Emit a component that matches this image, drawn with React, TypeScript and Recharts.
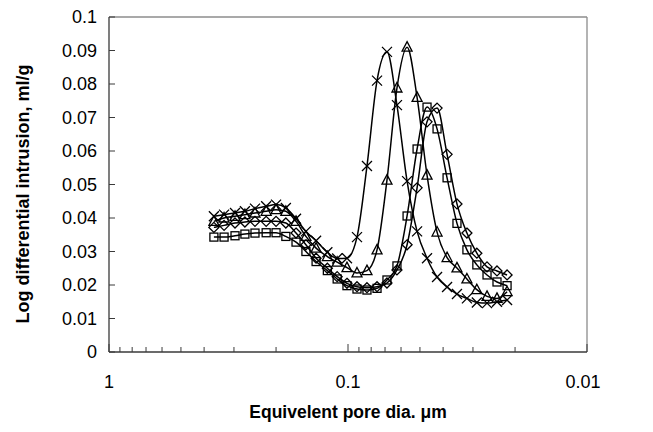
import React from 'react';
import { LineChart, Line, XAxis, YAxis, ReferenceLine, Label } from 'recharts';

// Equivalent pore diameter (µm)
const poreDia = [
  0.364, 0.33, 0.297, 0.27, 0.245, 0.22, 0.2, 0.182, 0.165, 0.15,
  0.136, 0.122, 0.111, 0.101, 0.0917, 0.0833, 0.0756, 0.0687, 0.0624, 0.0566,
  0.0514, 0.0467, 0.0424, 0.0385, 0.035, 0.0318, 0.0289, 0.0262, 0.0238, 0.0216,
];

// Log differential intrusion (ml/g)
const crossSeries = [
  0.0405, 0.041, 0.0415, 0.042, 0.0428, 0.0435, 0.044, 0.043, 0.0398, 0.036,
  0.0332, 0.0298, 0.0279, 0.028, 0.0343, 0.0555, 0.081, 0.0896, 0.0737, 0.051,
  0.036, 0.028, 0.0224, 0.0194, 0.0173, 0.016, 0.0148, 0.0146, 0.015, 0.0155,
];
const triangleSeries = [
  0.039, 0.04, 0.0405, 0.041, 0.0415, 0.042, 0.0425, 0.042, 0.039, 0.0345,
  0.031, 0.0285, 0.0268, 0.0252, 0.0236, 0.0243, 0.0305, 0.0513, 0.0788, 0.091,
  0.076, 0.0528, 0.0358, 0.0282, 0.0251, 0.0218, 0.0186, 0.0166, 0.016, 0.018,
];
const squareSeries = [
  0.0343, 0.0343, 0.0347, 0.0352, 0.0355, 0.0356, 0.0356, 0.0345, 0.0328, 0.03,
  0.027, 0.0243, 0.0218, 0.0198, 0.0188, 0.0185, 0.019, 0.0215, 0.0257, 0.0406,
  0.0606, 0.0731, 0.0666, 0.052, 0.0384, 0.0305, 0.026, 0.023, 0.0209, 0.0198,
];
const diamondSeries = [
  0.0372, 0.0378, 0.0385, 0.0388, 0.039, 0.039, 0.039, 0.0385, 0.0355, 0.032,
  0.028, 0.025, 0.0225, 0.0205, 0.0195, 0.0192, 0.0195, 0.0206, 0.0245, 0.032,
  0.049, 0.0687, 0.0728, 0.059, 0.0442, 0.0355, 0.0295, 0.0254, 0.0242, 0.023,
];

const xTicks = [1, 0.9, 0.8, 0.7, 0.6, 0.5, 0.4, 0.3, 0.2, 0.1, 0.09, 0.08, 0.07, 0.06, 0.05, 0.04, 0.03, 0.02, 0.01];
const xLabelTicks = [1, 0.1, 0.01];
const yTicks = [0, 0.01, 0.02, 0.03, 0.04, 0.05, 0.06, 0.07, 0.08, 0.09, 0.1];

const data = poreDia.map((d, i) => ({
  d,
  cross: crossSeries[i],
  tri: triangleSeries[i],
  sq: squareSeries[i],
  dia: diamondSeries[i],
}));

const FONT = '"Liberation Sans", Arial, Helvetica, sans-serif';
const AXIS = '#3a3a3a';

const XTick = (props: any) => {
  const { x, y, payload } = props;
  const v = payload.value;
  const major = xLabelTicks.includes(v);
  return (
    <g>
      <line x1={x} y1={y} x2={x} y2={y - (major ? 8 : 5)} stroke={AXIS} strokeWidth={1} />
      {major && (
        <text x={x + (v === 0.01 ? -4 : 0)} y={y + 36} textAnchor="middle" fontSize={18} fontFamily={FONT} fill="#000">
          {String(v)}
        </text>
      )}
    </g>
  );
};

const YTick = (props: any) => {
  const { x, y, payload } = props;
  return (
    <g>
      <line x1={x} y1={y} x2={x + 6} y2={y} stroke={AXIS} strokeWidth={1} />
      <text x={x - 12} y={y + 6} textAnchor="end" fontSize={18} fontFamily={FONT} fill="#000">
        {String(payload.value)}
      </text>
    </g>
  );
};

const makeDot = (shape: string) => (props: any) => {
  const { cx, cy, index } = props;
  const k = `${shape}-${index}`;
  if (cx == null || cy == null) return <g key={k} />;
  const common = { fill: 'none', stroke: '#000', strokeWidth: 1.3 };
  if (shape === 'sq') {
    return <rect key={k} x={cx - 4} y={cy - 4} width={8} height={8} {...common} />;
  }
  if (shape === 'tri') {
    return <path key={k} d={`M${cx},${cy - 5.5}L${cx + 5},${cy + 4}L${cx - 5},${cy + 4}Z`} {...common} />;
  }
  if (shape === 'dia') {
    return <path key={k} d={`M${cx},${cy - 5}L${cx + 5},${cy}L${cx},${cy + 5}L${cx - 5},${cy}Z`} {...common} />;
  }
  return <path key={k} d={`M${cx - 5},${cy - 5}L${cx + 5},${cy + 5}M${cx + 5},${cy - 5}L${cx - 5},${cy + 5}`} {...common} />;
};

export default function App() {
  return (
    <LineChart width={645} height={424} data={data} margin={{ top: 9, right: 66, bottom: 0, left: 0 }}>
      <XAxis
        dataKey="d"
        type="number"
        scale="log"
        domain={[0.01, 1]}
        allowDataOverflow
        reversed
        ticks={xTicks}
        interval={0}
        tick={<XTick />}
        tickLine={false}
        tickSize={0}
        tickMargin={0}
        height={80}
        axisLine={{ stroke: AXIS, strokeWidth: 1.3 }}
      >
        <Label
          content={() => (
            <text x={340} y={410} textAnchor="middle" fontSize={17.5} fontWeight="bold" fontFamily={FONT} fill="#000">
              Equivelent pore dia. μm
            </text>
          )}
        />
      </XAxis>
      <YAxis
        type="number"
        domain={[0, 0.1]}
        ticks={yTicks}
        interval={0}
        tick={<YTick />}
        tickLine={false}
        tickSize={0}
        tickMargin={0}
        width={101}
        axisLine={{ stroke: AXIS, strokeWidth: 1.3 }}
      >
        <Label
          content={() => (
            <text
              x={15}
              y={186}
              transform="rotate(-90 15 186)"
              textAnchor="middle"
              dominantBaseline="central"
              fontSize={18}
              fontWeight="bold"
              fontFamily={FONT}
              fill="#000"
            >
              Log differential intrusion, ml/g
            </text>
          )}
        />
      </YAxis>
      <ReferenceLine y={0.1} stroke="#8c8c8c" strokeWidth={1.3} />
      <ReferenceLine x={0.01} stroke="#8c8c8c" strokeWidth={1.3} />
      <Line type="monotone" dataKey="sq" stroke="#000" strokeWidth={1.5} dot={makeDot('sq')} isAnimationActive={false} />
      <Line type="monotone" dataKey="dia" stroke="#000" strokeWidth={1.5} dot={makeDot('dia')} isAnimationActive={false} />
      <Line type="monotone" dataKey="tri" stroke="#000" strokeWidth={1.5} dot={makeDot('tri')} isAnimationActive={false} />
      <Line type="monotone" dataKey="cross" stroke="#000" strokeWidth={1.5} dot={makeDot('cross')} isAnimationActive={false} />
    </LineChart>
  );
}
